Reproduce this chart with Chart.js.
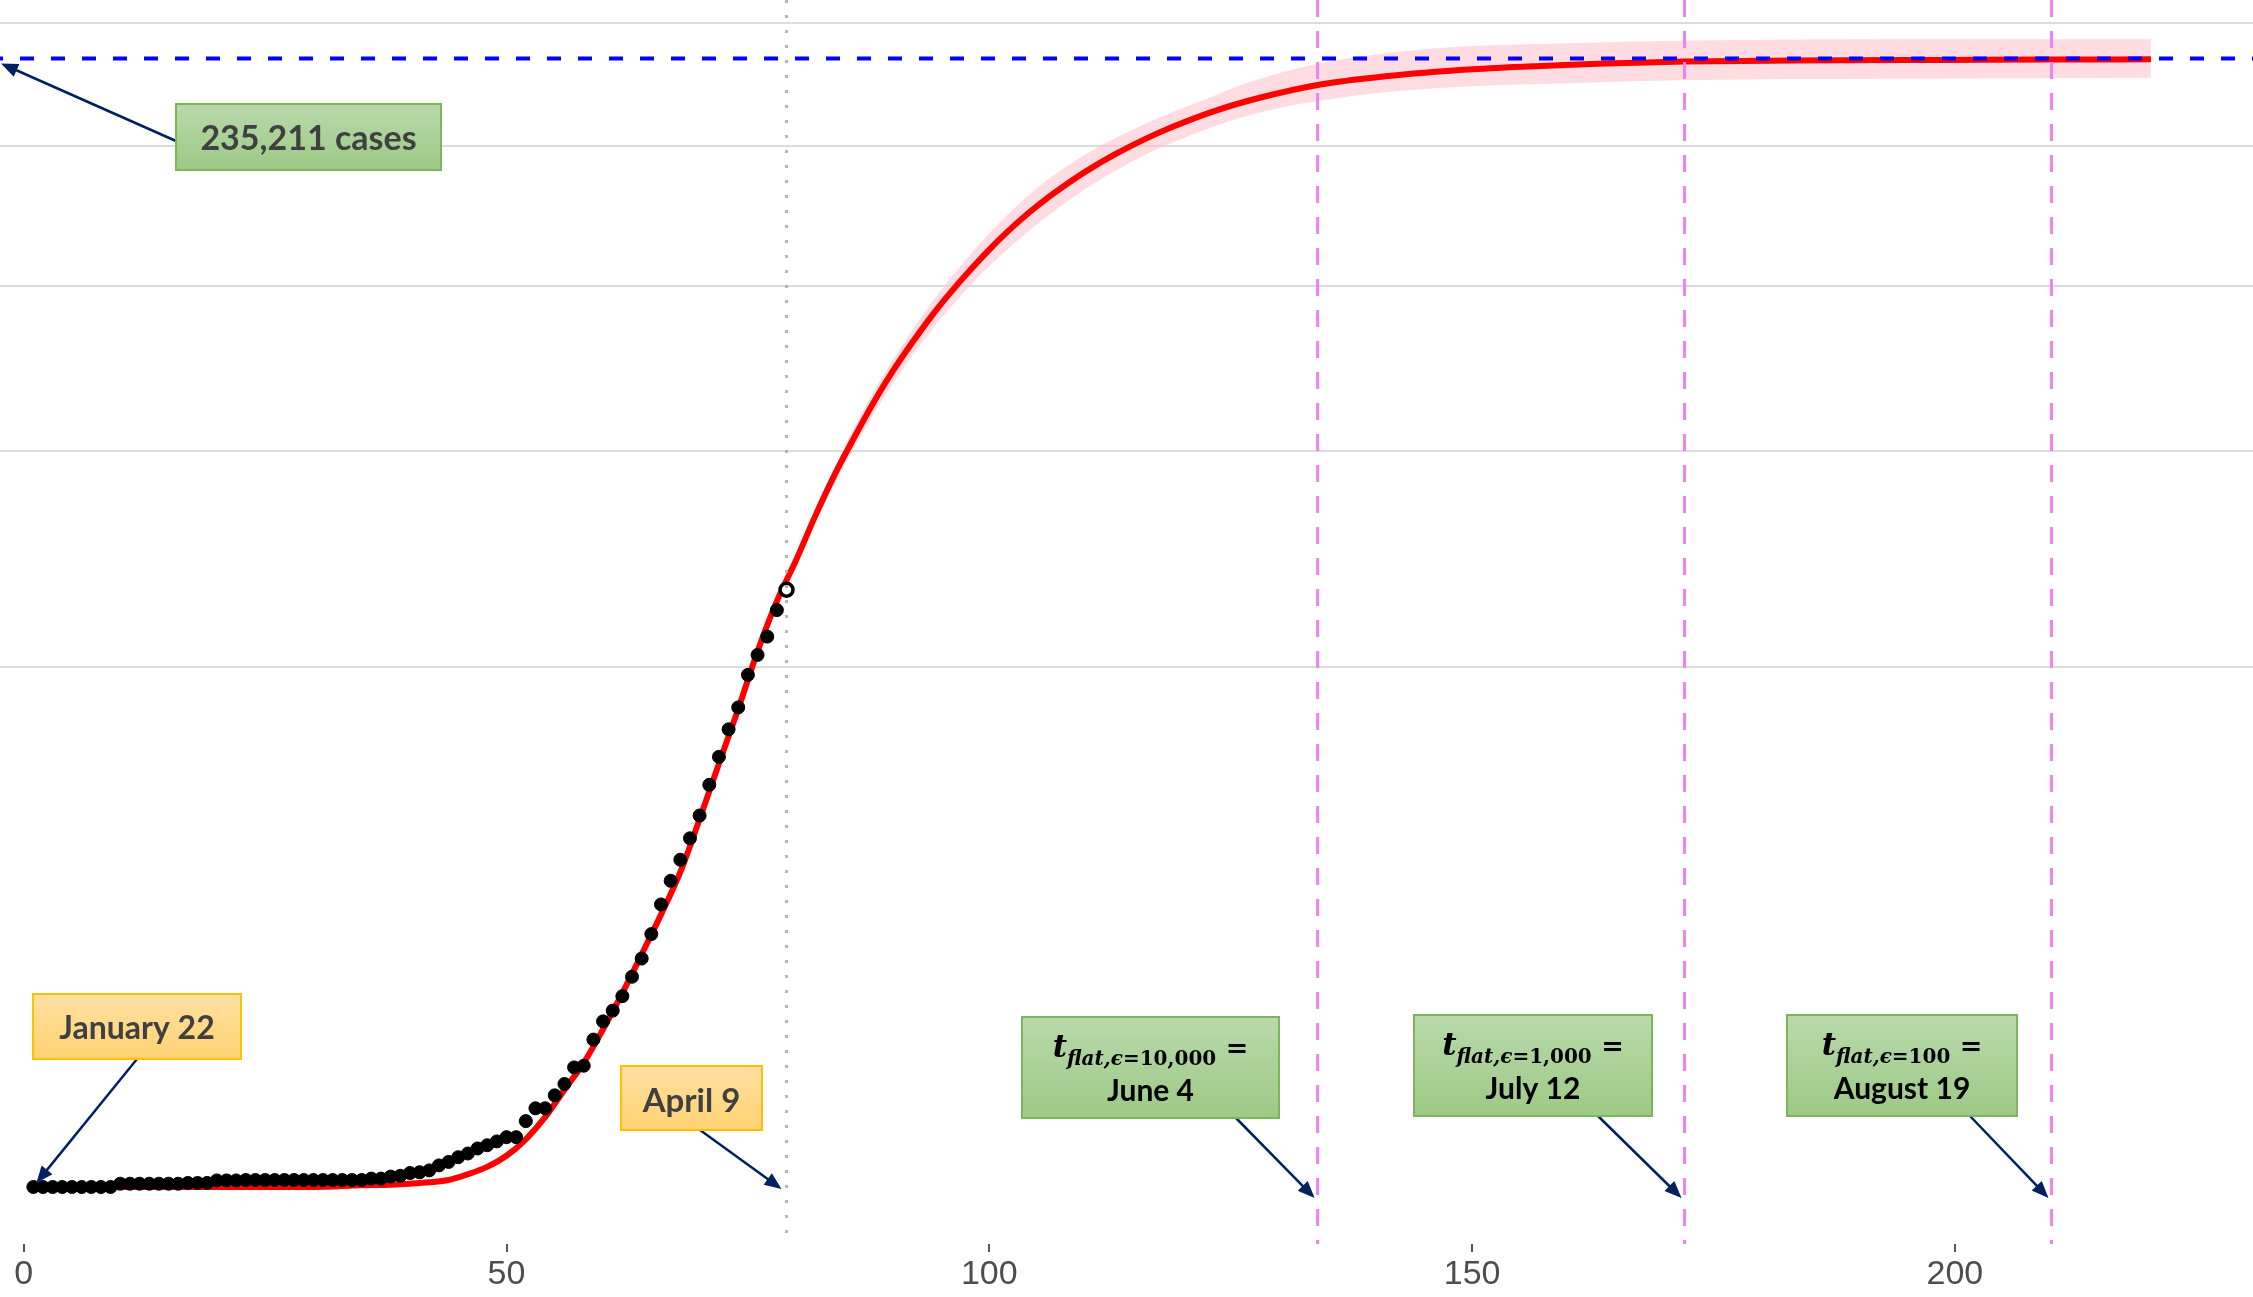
<!DOCTYPE html>
<html lang="en">
<head>
    <meta charset="UTF-8">
    <title>Cumulative cases projection</title>
    <script src="https://cdn.jsdelivr.net/npm/chart.js"></script>
    <style>
        body { margin: 0; background: #fff; }
        canvas { display: block; }
    </style>
</head>
<body>
    <canvas id="casesChart" width="2253" height="1297"></canvas>

    <script>
        // observed cumulative cases, day 1 = January 22
        const observedCases = [
            0, 0, 0, 0, 0, 0, 0, 0, 0, 2,
            2, 2, 2, 2, 2, 2, 3, 3, 3, 8,
            8, 8, 9, 9, 9, 9, 9, 9, 9, 9,
            9, 9, 9, 9, 9, 13, 13, 20, 23, 36,
            40, 51, 86, 116, 164, 207, 274, 322, 384, 459,
            459, 802, 1144, 1145, 1551, 1960, 2642, 2716, 4014, 5067,
            5745, 6726, 8164, 9640, 11812, 14745, 17312, 19780, 22453, 25481,
            29865, 34173, 38689, 42477, 48436, 52279, 55949, 61474, 65872
        ];

        // fitted curve
        const fitDays = [1, 10, 20, 30, 35, 38, 40, 42, 44, 46, 48, 50, 52, 54, 56, 58, 60, 62, 64, 66,
            68, 70, 72, 74, 76, 78, 80, 82, 84, 86, 88, 90, 92, 94, 96, 98, 100, 102, 104, 106,
            108, 110, 113, 116, 119, 123, 128, 134, 141, 150, 157, 163, 172, 183, 199, 210, 220.3];
        const fitCases = [0, 0, 0, 0, 0.5, 1, 2, 4, 9, 30, 75, 180, 420, 900, 1750, 2850, 4600, 6950, 10000, 13700,
            18300, 25000, 33100, 42200, 53000, 63400, 72600, 83300, 93800, 103700, 113600, 122900, 131600, 140000, 147800, 155200, 162300, 168900, 175000, 180600,
            185700, 190500, 196900, 202600, 207600, 213400, 219100, 224300, 227800, 230700, 232100, 233000, 233900, 234300, 234600, 234750, 234850];

        // confidence band around the fit
        const bandDays  = [79, 86, 92, 98, 104, 110, 116, 123, 127, 134, 146, 160, 173, 193, 220.3];
        const bandUpper = [68800, 106500, 135500, 160500, 181500, 197000, 208500, 219500, 225500, 233000, 239400, 241600, 242700, 243250, 243250];
        const bandLower = [67800, 101000, 127500, 150000, 168500, 184000, 196500, 207300, 212200, 217800, 222900, 225000, 226300, 226800, 227200];

        const finalCases = 235211;
        const lastObservedDay = 79;
        const flatDays = [134, 172, 210];
        const flatEps = ['10,000', '1,000', '100'];
        const flatDates = ['June 4', 'July 12', 'August 19'];

        const xTicks = [0, 50, 100, 150, 200];
        const yGrid = [50000, 100000, 150000, 200000, 250000];

        // square-root y axis
        const sq = v => Math.sign(v) * Math.sqrt(Math.abs(v));
        class SqrtScale extends Chart.LinearScale {
            getPixelForValue(value) {
                const lo = sq(this.min), hi = sq(this.max);
                return this.getPixelForDecimal((sq(value) - lo) / (hi - lo));
            }
            getValueForPixel(pixel) {
                const lo = sq(this.min), hi = sq(this.max);
                const s = lo + this.getDecimalForPixel(pixel) * (hi - lo);
                return Math.sign(s) * s * s;
            }
        }
        SqrtScale.id = 'sqrt';
        SqrtScale.defaults = Chart.LinearScale.defaults;
        Chart.register(SqrtScale);

        const toPoints = (xs, ys) => xs.map((d, i) => ({ x: d, y: ys[i] }));
        const noPadding = s => { s.paddingLeft = 0; s.paddingRight = 0; s.paddingTop = 0; s.paddingBottom = 0; };

        // callout boxes (pixels)
        const casesBox = { x: 176, y: 104, w: 265, h: 66, from: [176, 141] };
        const janBox = { x: 33, y: 994, w: 208, h: 65, from: [137, 1059] };
        const aprBox = { x: 621, y: 1066, w: 141, h: 64, from: [700, 1130] };
        const flatBoxes = [
            { x: 1022, y: 1017, w: 257, h: 101, from: [1236, 1118] },
            { x: 1414, y: 1015, w: 238, h: 101, from: [1598, 1116] },
            { x: 1787, y: 1015, w: 230, h: 101, from: [1970, 1116] }
        ];

        function drawBox(ctx, b, kind) {
            const g = ctx.createLinearGradient(0, b.y, 0, b.y + b.h);
            if (kind === 'green') {
                g.addColorStop(0, '#b9d9ab');
                g.addColorStop(1, '#9dc985');
                ctx.strokeStyle = '#7cb65a';
            } else {
                g.addColorStop(0, '#ffe0a3');
                g.addColorStop(1, '#ffd272');
                ctx.strokeStyle = '#ffc000';
            }
            ctx.fillStyle = g;
            ctx.fillRect(b.x, b.y, b.w, b.h);
            ctx.lineWidth = 2;
            ctx.setLineDash([]);
            ctx.strokeRect(b.x, b.y, b.w, b.h);
        }

        function drawArrow(ctx, x1, y1, x2, y2) {
            const ang = Math.atan2(y2 - y1, x2 - x1);
            const len = 17, half = 7;
            ctx.strokeStyle = '#002060';
            ctx.fillStyle = '#002060';
            ctx.lineWidth = 2.5;
            ctx.setLineDash([]);
            ctx.beginPath();
            ctx.moveTo(x1, y1);
            ctx.lineTo(x2 - Math.cos(ang) * (len - 2), y2 - Math.sin(ang) * (len - 2));
            ctx.stroke();
            ctx.beginPath();
            ctx.moveTo(x2, y2);
            ctx.lineTo(x2 - Math.cos(ang) * len - Math.sin(ang) * half, y2 - Math.sin(ang) * len + Math.cos(ang) * half);
            ctx.lineTo(x2 - Math.cos(ang) * len + Math.sin(ang) * half, y2 - Math.sin(ang) * len - Math.cos(ang) * half);
            ctx.closePath();
            ctx.fill();
        }

        function drawFlatTitle(ctx, cx, base, eps) {
            const parts = [
                { t: 't', f: 'italic bold 31px "DejaVu Serif"', dy: 0 },
                { t: 'flat,ϵ', f: 'italic bold 20px "DejaVu Serif"', dy: 8 },
                { t: '=' + eps, f: 'bold 20px "DejaVu Serif"', dy: 8 },
                { t: ' =', f: 'bold 27px "DejaVu Sans"', dy: 0 }
            ];
            let total = 0;
            parts.forEach(p => { ctx.font = p.f; p.w = ctx.measureText(p.t).width; total += p.w; });
            let x = cx - total / 2;
            ctx.fillStyle = '#000';
            ctx.textAlign = 'left';
            ctx.textBaseline = 'alphabetic';
            parts.forEach(p => {
                ctx.font = p.f;
                ctx.fillText(p.t, x, base + p.dy);
                x += p.w;
            });
        }

        const overlay = {
            id: 'overlay',
            afterDatasetsDraw(chart) {
                const { ctx, chartArea: a, scales: { x, y } } = chart;
                const zeroY = y.getPixelForValue(0);
                ctx.save();

                // last observed day
                ctx.strokeStyle = '#b3b3b3';
                ctx.lineWidth = 3;
                ctx.setLineDash([3, 12]);
                ctx.beginPath();
                ctx.moveTo(x.getPixelForValue(lastObservedDay), a.top);
                ctx.lineTo(x.getPixelForValue(lastObservedDay), a.bottom);
                ctx.stroke();

                // flat dates
                ctx.strokeStyle = '#ee82ee';
                ctx.lineWidth = 3;
                ctx.setLineDash([17, 14]);
                flatDays.forEach(d => {
                    ctx.beginPath();
                    ctx.moveTo(x.getPixelForValue(d), a.top);
                    ctx.lineTo(x.getPixelForValue(d), a.bottom);
                    ctx.stroke();
                });

                // final size
                ctx.strokeStyle = '#0000ff';
                ctx.lineWidth = 4;
                ctx.setLineDash([14, 17]);
                ctx.lineDashOffset = 11;
                ctx.beginPath();
                ctx.moveTo(a.left, y.getPixelForValue(finalCases));
                ctx.lineTo(a.right, y.getPixelForValue(finalCases));
                ctx.stroke();
                ctx.lineDashOffset = 0;

                // callouts
                drawArrow(ctx, casesBox.from[0], casesBox.from[1], a.left + 1, y.getPixelForValue(finalCases) + 5);
                drawBox(ctx, casesBox, 'green');
                ctx.fillStyle = '#404040';
                ctx.font = 'bold 34px Lato';
                ctx.textAlign = 'center';
                ctx.textBaseline = 'alphabetic';
                ctx.fillText(finalCases.toLocaleString('en-US') + ' cases', casesBox.x + casesBox.w / 2, 150);

                drawArrow(ctx, janBox.from[0], janBox.from[1], x.getPixelForValue(1) + 3, zeroY - 4);
                drawBox(ctx, janBox, 'orange');
                ctx.fillStyle = '#404040';
                ctx.font = 'bold 32px Lato';
                ctx.textAlign = 'center';
                ctx.fillText('January 22', janBox.x + janBox.w / 2, 1039);

                drawArrow(ctx, aprBox.from[0], aprBox.from[1], x.getPixelForValue(lastObservedDay) - 5, zeroY + 2);
                drawBox(ctx, aprBox, 'orange');
                ctx.fillStyle = '#404040';
                ctx.font = 'bold 33px Lato';
                ctx.textAlign = 'center';
                ctx.fillText('April 9', aprBox.x + aprBox.w / 2, 1112);

                flatBoxes.forEach((b, i) => {
                    drawArrow(ctx, b.from[0], b.from[1], x.getPixelForValue(flatDays[i]) - 3, zeroY + 11);
                    drawBox(ctx, b, 'green');
                    drawFlatTitle(ctx, b.x + b.w / 2, b.y + 40, flatEps[i]);
                    ctx.fillStyle = '#000';
                    ctx.font = 'bold 30px Lato';
                    ctx.textAlign = 'center';
                    ctx.fillText(flatDates[i], b.x + b.w / 2, b.y + 84);
                });

                ctx.restore();
            }
        };

        function makeChart() {
            const last = observedCases.length - 1;
            const ctx = document.getElementById('casesChart').getContext('2d');
            new Chart(ctx, {
                type: 'line',
                data: {
                    datasets: [
                        {
                            label: 'Observed',
                            data: observedCases.map((c, i) => ({ x: i + 1, y: c })),
                            showLine: false,
                            pointRadius: 6.5,
                            pointBackgroundColor: c => c.dataIndex === last ? '#ffffff' : '#000000',
                            pointBorderColor: '#000000',
                            pointBorderWidth: c => c.dataIndex === last ? 3.5 : 1,
                            order: 0
                        },
                        {
                            label: 'Fit',
                            data: toPoints(fitDays, fitCases),
                            borderColor: '#ff0000',
                            borderWidth: 6,
                            pointRadius: 0,
                            cubicInterpolationMode: 'monotone',
                            order: 1
                        },
                        {
                            label: 'Upper',
                            data: toPoints(bandDays, bandUpper),
                            borderWidth: 0,
                            pointRadius: 0,
                            cubicInterpolationMode: 'monotone',
                            backgroundColor: 'rgba(255, 192, 203, 0.55)',
                            fill: '+1',
                            order: 2
                        },
                        {
                            label: 'Lower',
                            data: toPoints(bandDays, bandLower),
                            borderWidth: 0,
                            pointRadius: 0,
                            cubicInterpolationMode: 'monotone',
                            fill: false,
                            order: 3
                        }
                    ]
                },
                options: {
                    responsive: false,
                    animation: false,
                    devicePixelRatio: 1,
                    layout: { padding: 0, autoPadding: false },
                    plugins: {
                        legend: { display: false },
                        tooltip: { enabled: false }
                    },
                    scales: {
                        x: {
                            type: 'linear',
                            min: -2.454,
                            max: 230.87,
                            afterBuildTicks: s => { s.ticks = xTicks.map(v => ({ value: v })); },
                            afterFit: s => { s.height = 53; noPadding(s); },
                            border: { display: false },
                            grid: { drawOnChartArea: false, drawTicks: true, tickLength: 8, color: '#555555', lineWidth: 2 },
                            ticks: {
                                color: '#4d4d4d',
                                font: { family: 'Liberation Sans', size: 34 },
                                padding: 2,
                                maxRotation: 0,
                                autoSkip: false
                            }
                        },
                        y: {
                            type: 'sqrt',
                            min: -600,
                            max: 260200,
                            afterBuildTicks: s => { s.ticks = yGrid.map(v => ({ value: v })); },
                            afterFit: s => { s.width = 0; noPadding(s); },
                            border: { display: false },
                            grid: { color: '#dcdcdc', lineWidth: 2, drawTicks: false },
                            ticks: { display: false }
                        }
                    }
                },
                plugins: [overlay]
            });
        }

        Promise.all([
            document.fonts.load('bold 34px Lato'),
            document.fonts.load('italic bold 30px "DejaVu Serif"'),
            document.fonts.load('bold 20px "DejaVu Serif"'),
            document.fonts.load('34px "Liberation Sans"')
        ]).then(makeChart).catch(makeChart);
    </script>
</body>
</html>
